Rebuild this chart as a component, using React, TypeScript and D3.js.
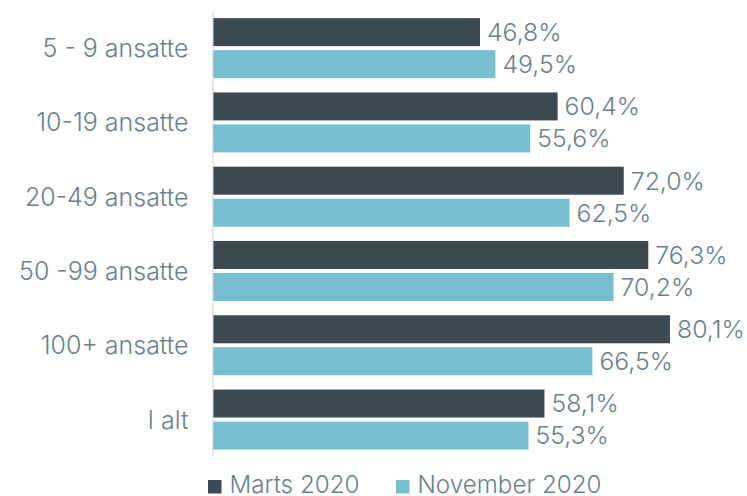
import React from "react";
import * as d3 from "d3";

const categories = ["5 - 9 ansatte", "10-19 ansatte", "20-49 ansatte", "50 -99 ansatte", "100+ ansatte", "I alt"];
const seriesNames = ["Marts 2020", "November 2020"];
const marts2020 = [46.8, 60.4, 72.0, 76.3, 80.1, 58.1];
const november2020 = [49.5, 55.6, 62.5, 70.2, 66.5, 55.3];
const colors = ["#3e4a52", "#76bfce"];

const W = 747;
const H = 496;
const FONT = "Inter, sans-serif";
const TEXT = "#6d7f8a";

export default function App() {
  const values = [marts2020, november2020];
  const x = d3.scaleLinear().domain([0, 100]).range([213, 213 + 570.5]);
  const y = d3.scaleBand<string>().domain(categories).range([11, 456.7]).paddingInner(0.192).paddingOuter(0.096);
  const ySub = d3.scaleBand<string>().domain(seriesNames).range([0, y.bandwidth()]).paddingInner(0.125);
  const fmt = (v: number) => v.toFixed(1).replace(".", ",") + "%";

  return (
    <svg width={W} height={H} style={{ position: "absolute", left: 0, top: 0, background: "#fff" }}>
      {categories.map((c, i) => (
        <g key={c}>
          <text x={188.5} y={y(c)! + y.bandwidth() / 2} dy="0.36em" textAnchor="end" fontFamily={FONT} fontWeight={300} fontSize={25} fill={TEXT}>
            {c}
          </text>
          {seriesNames.map((s, j) => {
            const v = values[j][i];
            const yy = y(c)! + ySub(s)!;
            return (
              <g key={s}>
                <rect x={x(0)} y={yy} width={x(v) - x(0)} height={ySub.bandwidth()} fill={colors[j]} />
                <text x={x(v) + 7} y={yy + ySub.bandwidth() / 2} dy="0.36em" fontFamily={FONT} fontWeight={300} fontSize={24.8} fill={TEXT}>
                  {fmt(v)}
                </text>
              </g>
            );
          })}
        </g>
      ))}
      <line x1={x(0)} x2={x(0)} y1={11} y2={456.7} stroke="#d3d3d3" strokeWidth={1} />
      {seriesNames.map((s, j) => {
        const lx = j === 0 ? 208 : 396;
        return (
          <g key={s}>
            <rect x={lx} y={480} width={13.5} height={13.5} fill={colors[j]} />
            <text x={lx + 21.5} y={493} fontFamily={FONT} fontWeight={300} fontSize={24.2} fill={TEXT}>
              {s}
            </text>
          </g>
        );
      })}
    </svg>
  );
}
